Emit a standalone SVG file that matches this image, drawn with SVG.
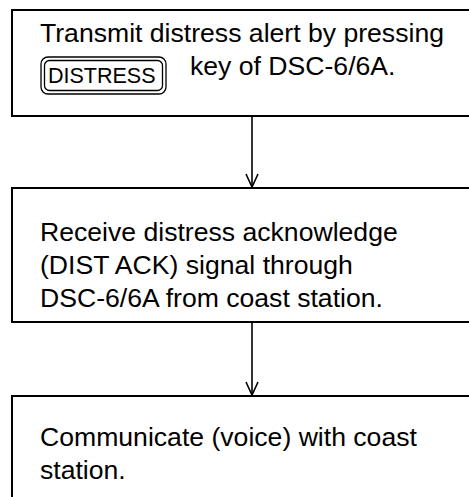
<svg xmlns="http://www.w3.org/2000/svg" width="469" height="497" viewBox="0 0 469 497">
<style>
.box{fill:#fff;stroke:#000;stroke-width:2}
.t{font-family:"Liberation Sans",Arial,sans-serif;font-size:26.6px;fill:#000}
.k{font-family:"Liberation Sans",Arial,sans-serif;font-size:21.5px;fill:#000}
.key{fill:none;stroke:#000;stroke-width:1.3}
.c{fill:none;stroke:#000;stroke-width:1.6}
</style>
<rect width="469" height="497" fill="#fff"/>
<g id="connectors">
<line class="c" x1="252" y1="116" x2="252" y2="187"/>
<path d="M246,174 L252,187 L258,174" class="c"/>
<line class="c" x1="252" y1="322" x2="252" y2="395"/>
<path d="M246,382 L252,395 L258,382" class="c"/>
</g>
<g id="node1">
<rect class="box" x="12" y="10" width="470" height="106"/>
<text class="t" x="40" y="42">Transmit distress alert by pressing</text>
<rect class="key" x="41" y="57" width="125" height="37" rx="7"/>
<rect class="key" x="44.5" y="60.5" width="118" height="30" rx="5"/>
<text class="k" x="48" y="83">DISTRESS</text>
<text class="t" x="190" y="75">key of DSC-6/6A.</text>
</g>
<g id="node2">
<rect class="box" x="12" y="188" width="470" height="134"/>
<text class="t" x="40" y="241">Receive distress acknowledge</text>
<text class="t" x="40" y="274">(DIST ACK) signal through</text>
<text class="t" x="40" y="307">DSC-6/6A from coast station.</text>
</g>
<g id="node3">
<rect class="box" x="12" y="396" width="470" height="120"/>
<text class="t" x="40" y="446">Communicate (voice) with coast</text>
<text class="t" x="40" y="479">station.</text>
</g>
</svg>
